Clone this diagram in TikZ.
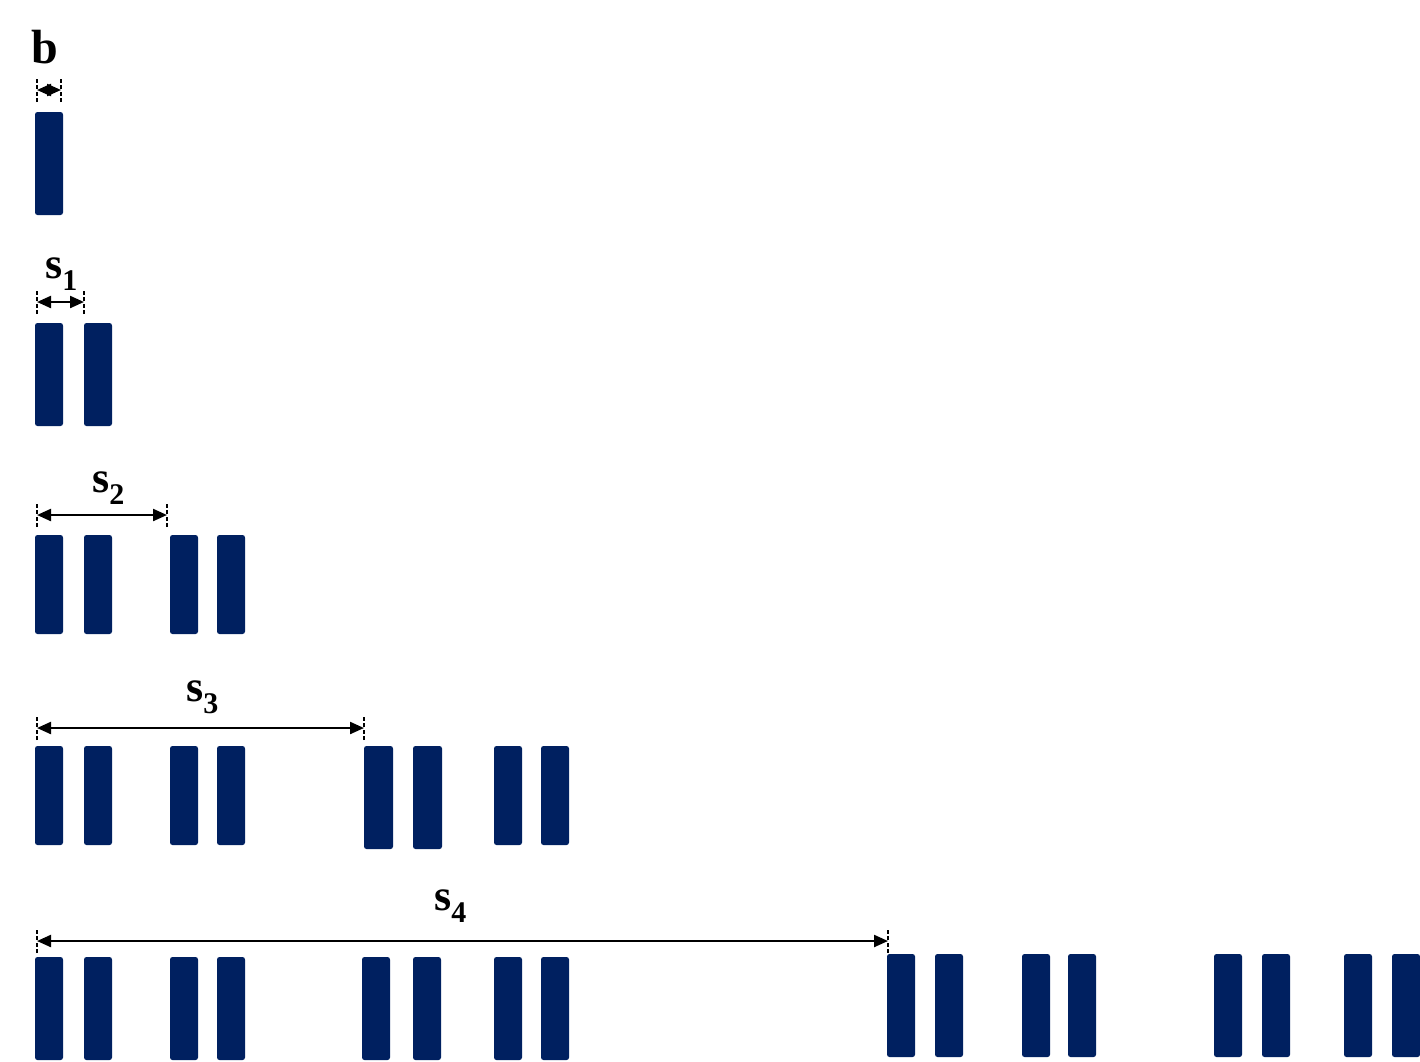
\documentclass[tikz,border=0pt]{standalone}
\usepackage{fontspec}
\setmainfont{Liberation Serif}
\usetikzlibrary{arrows.meta}
\definecolor{navy}{HTML}{002060}
\tikzset{
  barfill/.style={fill=navy, rounded corners=2.5pt},
  dimline/.style={line width=2.2pt, {Triangle[length=14pt,width=12pt]}-{Triangle[length=14pt,width=12pt]}},
  tick/.style={line width=1.6pt, dash pattern=on 4pt off 2.5pt},
  lbl/.style={inner sep=0pt, font=\fontsize{44}{44}\selectfont\bfseries},
}
\newcommand{\sublbl}[1]{s\raisebox{-12pt}{\fontsize{30}{30}\selectfont #1}}
\begin{document}
\begin{tikzpicture}[x=1pt,y=-1pt]
\useasboundingbox (0,0) rectangle (1420,1061);
% row 1
\fill[barfill] (35,112) rectangle (63,215);
% row 2
\foreach \a in {35,84} \fill[barfill] (\a,323) rectangle ++(28,103);
% row 3
\foreach \a in {35,84,170,217} \fill[barfill] (\a,535) rectangle ++(28,99);
% row 4
\foreach \a in {35,84,170,217,494,541} \fill[barfill] (\a,746) rectangle ++(28,99);
\foreach \a in {364,413} \fill[barfill] (\a,746) rectangle ++(29,103);
% row 5
\foreach \a in {35,84,170,217,362,413,494,541} \fill[barfill] (\a,957) rectangle ++(28,103);
\foreach \a in {887,935,1022,1068,1214,1262,1344,1392} \fill[barfill] (\a,954) rectangle ++(28,103);

% dimension b
\coordinate (b1) at (37,90); \coordinate (b2) at (61,90);
\draw[tick] ([yshift=-12pt]b1) -- ([yshift=11pt]b1);
\draw[tick] ([yshift=-12pt]b2) -- ([yshift=11pt]b2);
\draw[dimline] (b1) -- (b2);
\node[lbl, anchor=base, font=\fontsize{48}{48}\selectfont\bfseries] (lb) at (45,63) {b};

% dimension s1
\coordinate (s1a) at (37,302); \coordinate (s1b) at (84,302);
\draw[tick] ([yshift=-12pt]s1a) -- ([yshift=11pt]s1a);
\draw[tick] ([yshift=-12pt]s1b) -- ([yshift=11pt]s1b);
\draw[dimline] (s1a) -- (s1b);
\node[lbl, anchor=base west] (ls1) at (45,278) {\sublbl{1}};

% dimension s2
\coordinate (s2a) at (37,515); \coordinate (s2b) at (167,515);
\draw[tick] ([yshift=-12pt]s2a) -- ([yshift=11pt]s2a);
\draw[tick] ([yshift=-12pt]s2b) -- ([yshift=11pt]s2b);
\draw[dimline] (s2a) -- (s2b);
\node[lbl, anchor=base west] (ls2) at (92,492) {\sublbl{2}};

% dimension s3
\coordinate (s3a) at (37,728); \coordinate (s3b) at (364,728);
\draw[tick] ([yshift=-12pt]s3a) -- ([yshift=11pt]s3a);
\draw[tick] ([yshift=-12pt]s3b) -- ([yshift=11pt]s3b);
\draw[dimline] (s3a) -- (s3b);
\node[lbl, anchor=base west] (ls3) at (186,701) {\sublbl{3}};

% dimension s4
\coordinate (s4a) at (37,941); \coordinate (s4b) at (888,941);
\draw[tick] ([yshift=-12pt]s4a) -- ([yshift=11pt]s4a);
\draw[tick] ([yshift=-12pt]s4b) -- ([yshift=11pt]s4b);
\draw[dimline] (s4a) -- (s4b);
\node[lbl, anchor=base west] (ls4) at (434,910) {\sublbl{4}};
\end{tikzpicture}
\end{document}
